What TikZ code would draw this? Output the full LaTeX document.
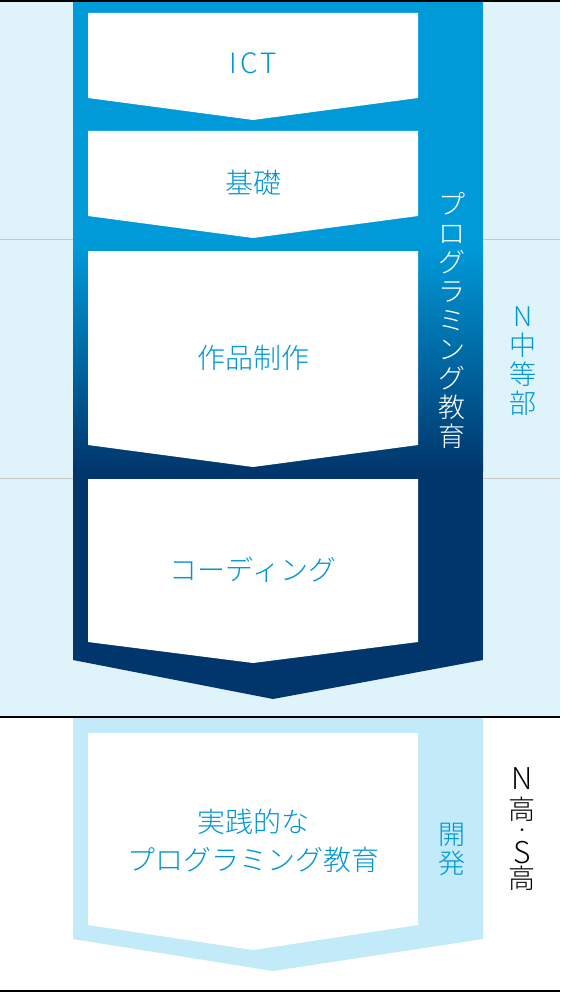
\documentclass[tikz,border=0pt]{standalone}
\usepackage{fontspec}
\setmainfont{Noto Sans CJK JP}[UprightFont=* Light]
\usetikzlibrary{positioning}
\definecolor{skyblue}{HTML}{009AD9}
\definecolor{navyblue}{HTML}{00366C}
\definecolor{paleblue}{HTML}{DFF3FB}
\definecolor{lightblue}{HTML}{C2EAF8}
\definecolor{textblue}{HTML}{0096D6}
\definecolor{rulegray}{HTML}{C8C8C8}
\tikzset{
boxlabel/.style={text=textblue, font=\fontsize{28}{38}\selectfont, align=center, inner sep=0pt}, % labels in the white boxes
vlabel/.style={font=\fontsize{27}{29}\selectfont, align=center, inner sep=0pt}, % vertical texts
vchar/.style={text=black, inner sep=0pt, anchor=base, font=\fontsize{#1}{#1}\selectfont}, % one letter of N高・S高
}

\begin{document}
\begin{tikzpicture}[x=1pt, y=-1pt]
\useasboundingbox (0,0) rectangle (560,992);
% background bands
\fill[paleblue] (0,0) rectangle (560,717);
\fill[white] (0,717) rectangle (560,992);
\draw[rulegray, line width=1pt] (0,239) -- (560,239);
\draw[rulegray, line width=1pt] (0,478) -- (560,478);
% big arrow with gradient
\begin{scope}
\clip (73,0) -- (483,0) -- (483,660) -- (273,699) -- (73,660) -- cycle;
\fill[skyblue] (73,0) rectangle (483,246);
\shade[top color=skyblue, bottom color=navyblue] (73,245) rectangle (483,471);
\fill[navyblue] (73,470) rectangle (483,700);
\end{scope}
% lower arrow
\fill[lightblue] (73,717) -- (483,717) -- (483,939) -- (273,971) -- (73,939) -- cycle;
% white boxes
\foreach \top/\side/\tip in {13/98/120, 131/216/238, 251/445/467, 479/642/663, 733/925/950}
  \fill[white] (88,\top) -- (418,\top) -- (418,\side) -- (253,\tip) -- (88,\side) -- cycle;
% rules
\draw[black, line width=2pt] (0,1) -- (560,1);
\draw[black, line width=2pt] (0,717) -- (560,717);
\draw[black, line width=2pt] (0,991) -- (560,991);
% labels
\node[boxlabel] (ict) at (253,63) {\addfontfeatures{LetterSpace=12}ICT};
\node[boxlabel] (kiso) at (253,183) {基礎};
\node[boxlabel] (sakuhin) at (253,358) {作品制作};
\node[boxlabel] (coding) at (253,570) {コーディング};
\node[boxlabel] (jissen) at (253,841) {実践的な\\プログラミング教育};
\node[vlabel, text=white] (prog) at (452,320) {プ\\ロ\\グ\\ラ\\ミ\\ン\\グ\\教\\育};
\node[vlabel, text=textblue] (chutou) at (523,361) {N\\中\\等\\部};
\node[vlabel, text=textblue] (kaihatsu) at (452,849) {開\\発};
% N高・S高, letter by letter, on their baselines
\node[vchar=30] (kN) at (522,789) {N};
\node[vchar=27] (kKo1) at (522,819) {高};
\node[vchar=14] (kDot) at (522,835) {・};
\node[vchar=30] (kS) at (522,863) {S};
\node[vchar=27] (kKo2) at (522,888) {高};
\end{tikzpicture}
\end{document}
